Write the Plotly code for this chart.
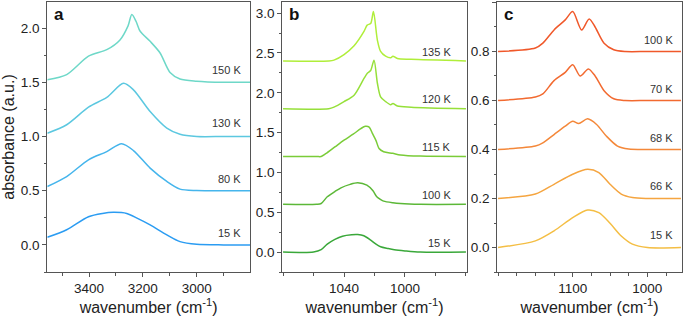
import plotly.graph_objects as go

# ---------------- Panel a (O-H stretch region) ----------------
a_wn_15 = [3555, 3483, 3402, 3350, 3310, 3260, 3220, 3173, 3111, 3062, 3000, 2900, 2800]
a_abs_15 = [0.07, 0.14, 0.26, 0.29, 0.30, 0.29, 0.245, 0.185, 0.092, 0.03, 0.005, 0.0, 0.0]
a_wn_80 = [3555, 3483, 3402, 3334, 3279, 3235, 3173, 3111, 3062, 3000, 2900, 2800]
a_abs_80 = [0.538, 0.63, 0.785, 0.86, 0.933, 0.87, 0.708, 0.585, 0.514, 0.501, 0.5, 0.5]
a_wn_130 = [3555, 3483, 3402, 3334, 3272, 3235, 3173, 3111, 3062, 3000, 2900, 2800]
a_abs_130 = [1.03, 1.108, 1.27, 1.36, 1.49, 1.43, 1.23, 1.077, 1.02, 1.0, 1.0, 1.0]
a_wn_150 = [3555, 3483, 3402, 3334, 3285, 3255, 3241, 3225, 3210, 3173, 3136, 3099, 3062, 3000, 2900, 2800]
a_abs_150 = [1.523, 1.57, 1.74, 1.80, 1.89, 2.02, 2.124, 2.06, 1.97, 1.877, 1.77, 1.59, 1.53, 1.51, 1.5, 1.5]
a_labels = ["15 K", "80 K", "130 K", "150 K"]
a_label_y = [0.11, 0.61, 1.126, 1.616]
a_colors = ["#2b9cf2", "#45b5ec", "#5cc8e0", "#6ed8c8"]

# ---------------- Panel b ----------------
b_wn_15 = [1080, 1060, 1055, 1051, 1046, 1041, 1035, 1031, 1027, 1022.5, 1019, 1016, 1011, 1007, 1000, 990, 960]
b_abs_15 = [0.0, 0.0, 0.03, 0.10, 0.16, 0.20, 0.218, 0.22, 0.205, 0.15, 0.10, 0.067, 0.045, 0.03, 0.015, 0.0, 0.0]
b_wn_100 = [1080, 1058, 1055, 1051, 1046, 1042, 1036, 1031, 1025, 1021, 1018.5, 1016, 1014, 1008, 1003, 990, 960]
b_abs_100 = [0.6, 0.6, 0.61, 0.694, 0.76, 0.807, 0.85, 0.87, 0.84, 0.77, 0.694, 0.66, 0.64, 0.62, 0.61, 0.6, 0.6]
b_wn_115 = [1080, 1058, 1055, 1052, 1046, 1040, 1034, 1029, 1026, 1023.5, 1021.4, 1019, 1017, 1014, 1008, 1003, 990, 960]
b_abs_115 = [1.2, 1.2, 1.2, 1.235, 1.32, 1.405, 1.48, 1.55, 1.58, 1.57, 1.49, 1.40, 1.30, 1.26, 1.24, 1.22, 1.205, 1.2]
b_wn_120 = [1080, 1050, 1046.6, 1040, 1033.4, 1026.9, 1024.7, 1022.5, 1020.3, 1018.1, 1016, 1012.7, 1009.4, 1007.9, 1005, 996, 960]
b_abs_120 = [1.8, 1.8, 1.82, 1.89, 1.97, 2.18, 2.245, 2.28, 2.41, 2.12, 1.95, 1.89, 1.85, 1.866, 1.835, 1.82, 1.8]
b_wn_135 = [1080, 1050, 1046.6, 1040, 1033.4, 1026.9, 1024.8, 1022.5, 1020.7, 1018.1, 1016, 1012.7, 1009.4, 1007.9, 1005, 996, 960]
b_abs_135 = [2.4, 2.4, 2.41, 2.48, 2.59, 2.77, 2.85, 2.87, 3.02, 2.66, 2.52, 2.46, 2.44, 2.46, 2.43, 2.42, 2.4]
b_labels = ["15 K", "100 K", "115 K", "120 K", "135 K"]
b_label_y = [0.109, 0.715, 1.314, 1.916, 2.51]
b_colors = ["#3aa83a", "#5cb838", "#7acc38", "#96e03a", "#b0ee3a"]

# ---------------- Panel c ----------------
c_wn_15 = [1200, 1150, 1125, 1100, 1080, 1065, 1050, 1035, 1020, 1000, 955]
c_abs_15 = [0.0, 0.027, 0.068, 0.122, 0.153, 0.142, 0.099, 0.047, 0.014, 0.0, 0.0]
c_wn_66 = [1200, 1150, 1125, 1100, 1080, 1065, 1050, 1035, 1020, 1000, 955]
c_abs_66 = [0.2, 0.218, 0.258, 0.299, 0.319, 0.306, 0.258, 0.218, 0.204, 0.2, 0.2]
c_wn_68 = [1200, 1150, 1140, 1125, 1110, 1100, 1092, 1080, 1068, 1055, 1040, 1025, 1000, 955]
c_abs_68 = [0.4, 0.414, 0.427, 0.461, 0.495, 0.515, 0.506, 0.525, 0.502, 0.455, 0.414, 0.402, 0.4, 0.4]
c_wn_70 = [1200, 1150, 1140, 1125, 1110, 1100, 1090, 1079, 1070, 1058, 1045, 1030, 1000, 955]
c_abs_70 = [0.6, 0.614, 0.627, 0.681, 0.715, 0.746, 0.70, 0.729, 0.70, 0.64, 0.607, 0.6, 0.6, 0.6]
c_wn_100 = [1200, 1150, 1140, 1125, 1110, 1100, 1088, 1078, 1070, 1058, 1045, 1030, 1000, 955]
c_abs_100 = [0.8, 0.814, 0.834, 0.888, 0.929, 0.963, 0.888, 0.933, 0.90, 0.834, 0.807, 0.8, 0.8, 0.8]
c_labels = ["15 K", "66 K", "68 K", "70 K", "100 K"]
c_label_y = [0.05, 0.25, 0.447, 0.647, 0.845]
c_colors = ["#f4be44", "#f5a540", "#f4883a", "#f26a30", "#f0582a"]

fig = go.Figure()

panels = [
    ("x", "y", [(a_wn_15, a_abs_15), (a_wn_80, a_abs_80), (a_wn_130, a_abs_130), (a_wn_150, a_abs_150)], a_colors),
    ("x2", "y2", [(b_wn_15, b_abs_15), (b_wn_100, b_abs_100), (b_wn_115, b_abs_115), (b_wn_120, b_abs_120), (b_wn_135, b_abs_135)], b_colors),
    ("x3", "y3", [(c_wn_15, c_abs_15), (c_wn_66, c_abs_66), (c_wn_68, c_abs_68), (c_wn_70, c_abs_70), (c_wn_100, c_abs_100)], c_colors),
]
for xa, ya, series, cols in panels:
    for (wn, ab), col in zip(series, cols):
        fig.add_trace(go.Scatter(x=wn, y=ab, xaxis=xa, yaxis=ya, mode="lines",
                                 line=dict(color=col, width=1.5, shape="spline", smoothing=0.8),
                                 showlegend=False, hoverinfo="skip"))

W, H = 685, 316
def xd(l, r):
    return [l / W, r / W]
ydom = [1 - 272 / H, 1 - 2 / H]

axcol = "#555555"
tickfont = dict(family="Liberation Sans, Arial, sans-serif", size=13.5, color="#222222")
titlefont = dict(family="Liberation Sans, Arial, sans-serif", size=16, color="#222222")

def xaxis(dom, rng, tickvals, mtick0, mdtick, anchor):
    return dict(domain=dom, range=rng, anchor=anchor, showline=True, mirror=True, linecolor=axcol,
                linewidth=1.3, showgrid=False, zeroline=False, ticks="outside", ticklen=4,
                tickcolor=axcol, tickwidth=1.2, tickmode="array", tickvals=tickvals,
                ticktext=[str(v) for v in tickvals], tickfont=tickfont,
                minor=dict(tickmode="linear", tick0=mtick0, dtick=mdtick, ticks="outside",
                           ticklen=2.5, tickcolor=axcol, tickwidth=1),
                title=dict(text="wavenumber (cm<sup>-1</sup>)", font=titlefont, standoff=2))

def yaxis(rng, dtick, mdtick, anchor, title=None, fmt=".1f"):
    d = dict(domain=ydom, range=rng, anchor=anchor, showline=True, mirror=True, linecolor=axcol,
             linewidth=1.3, showgrid=False, zeroline=False, ticks="outside", ticklen=4,
             tickcolor=axcol, tickwidth=1.2, tick0=0, dtick=dtick, tickformat=fmt, tickfont=tickfont,
             minor=dict(tick0=0, dtick=mdtick, ticks="outside", ticklen=2.5, tickcolor=axcol, tickwidth=1))
    if title:
        d["title"] = dict(text=title, font=titlefont, standoff=4)
    return d

fig.update_layout(
    width=W, height=H, margin=dict(l=0, r=0, t=0, b=0, autoexpand=False),
    paper_bgcolor="white", plot_bgcolor="white",
    xaxis=xaxis(xd(47.3, 250), [3555, 2802], [3400, 3200, 3000], 3000, 100, "y"),
    yaxis=yaxis([-0.25, 2.24], 0.5, 0.25, "x", title="absorbance (a.u.)"),
    xaxis2=xaxis(xd(282.3, 466.7), [1080.5, 959.5], [1040, 1000], 1000, 20, "y2"),
    yaxis2=yaxis([-0.25, 3.14], 0.5, 0.25, "x2"),
    xaxis3=xaxis(xd(497.3, 681.7), [1201, 954], [1100, 1000], 1000, 25, "y3"),
    yaxis3=yaxis([-0.1, 1.002], 0.2, 0.1, "x3"),
)

lblfont = dict(family="Liberation Sans, Arial, sans-serif", size=11, color="#333333")
ann = []
for labels, ys, xr, yr, xpos in [(a_labels, a_label_y, "x domain", "y", 0.9655),
                                 (b_labels, b_label_y, "x2 domain", "y2", 0.926),
                                 (c_labels, c_label_y, "x3 domain", "y3", 0.964)]:
    for t, yv in zip(labels, ys):
        ann.append(dict(text=t, x=xpos, y=yv, xref=xr, yref=yr, xanchor="right", yanchor="middle",
                        showarrow=False, font=lblfont))
pfont = dict(family="Liberation Sans, Arial, sans-serif", size=17, color="#111111")
for letter, xr, yr in [("a", "x domain", "y domain"), ("b", "x2 domain", "y2 domain"), ("c", "x3 domain", "y3 domain")]:
    ann.append(dict(text="<b>%s</b>" % letter, x=0.025, y=0.995, xref=xr, yref=yr,
                    xanchor="left", yanchor="top", showarrow=False, font=pfont))
fig.update_layout(annotations=ann)

fig.write_html("out.html", config={"displayModeBar": False},
               post_script="document.body.style.margin='0';document.body.style.padding='0';"
                           "document.documentElement.style.overflow='hidden';")
